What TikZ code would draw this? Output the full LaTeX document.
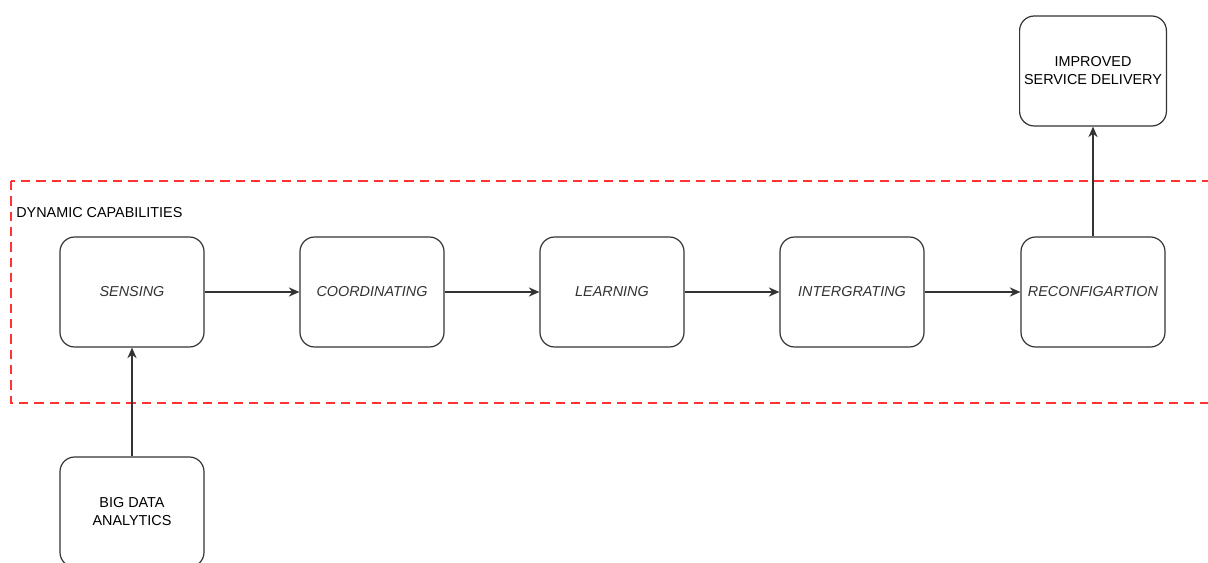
\documentclass[tikz,border=0pt]{standalone}
\usepackage{fontspec}
\setmainfont{Liberation Sans}
\usetikzlibrary{positioning}
\usetikzlibrary{arrows.meta}

\definecolor{boxline}{HTML}{333333}
\definecolor{dashred}{HTML}{FF3333}

\tikzset{
  stage/.style={draw=boxline, line width=0.9pt, rounded corners=11pt,
    minimum width=108pt, minimum height=82.5pt, align=center, text=boxline,
    font=\fontsize{10.8}{13.5}\selectfont\itshape},
  outer/.style={stage, text=black, font=\fontsize{10.8}{13.5}\selectfont},
  flow/.style={-{Stealth[length=8pt,width=7pt]}, draw=boxline, line width=0.9pt},
  capzone/.style={draw=dashred, line width=1.8pt, dash pattern=on 7pt off 4.5pt}
}

\begin{document}
\begin{tikzpicture}[x=0.75pt, y=-0.75pt]

\useasboundingbox (0,0) rectangle (1208,563);
\clip (0,0) rectangle (1208,563);

% dynamic capabilities zone
\draw[capzone] (11,181) rectangle (1240,403);
\node[anchor=west, inner sep=0pt, font=\fontsize{10.8}{13.5}\selectfont] (dynlabel) at (16,213) {DYNAMIC CAPABILITIES};

\node[stage] (sensing) at (132,292) {SENSING};
\node[stage] (coord) at (372,292) {COORDINATING};
\node[stage] (learning) at (612,292) {LEARNING};
\node[stage] (integr) at (852,292) {INTERGRATING};
\node[stage] (reconf) at (1093,292) {RECONFIGARTION};

\node[outer] (service) at (1093,71) {IMPROVED\\SERVICE DELIVERY};
\node[outer] (bigdata) at (132,512) {BIG DATA\\ANALYTICS};

\draw[flow] (sensing) -- (coord);
\draw[flow] (coord) -- (learning);
\draw[flow] (learning) -- (integr);
\draw[flow] (integr) -- (reconf);
\draw[flow] (bigdata) -- (sensing);
\draw[flow] (reconf) -- (service);

\end{tikzpicture}
\end{document}
